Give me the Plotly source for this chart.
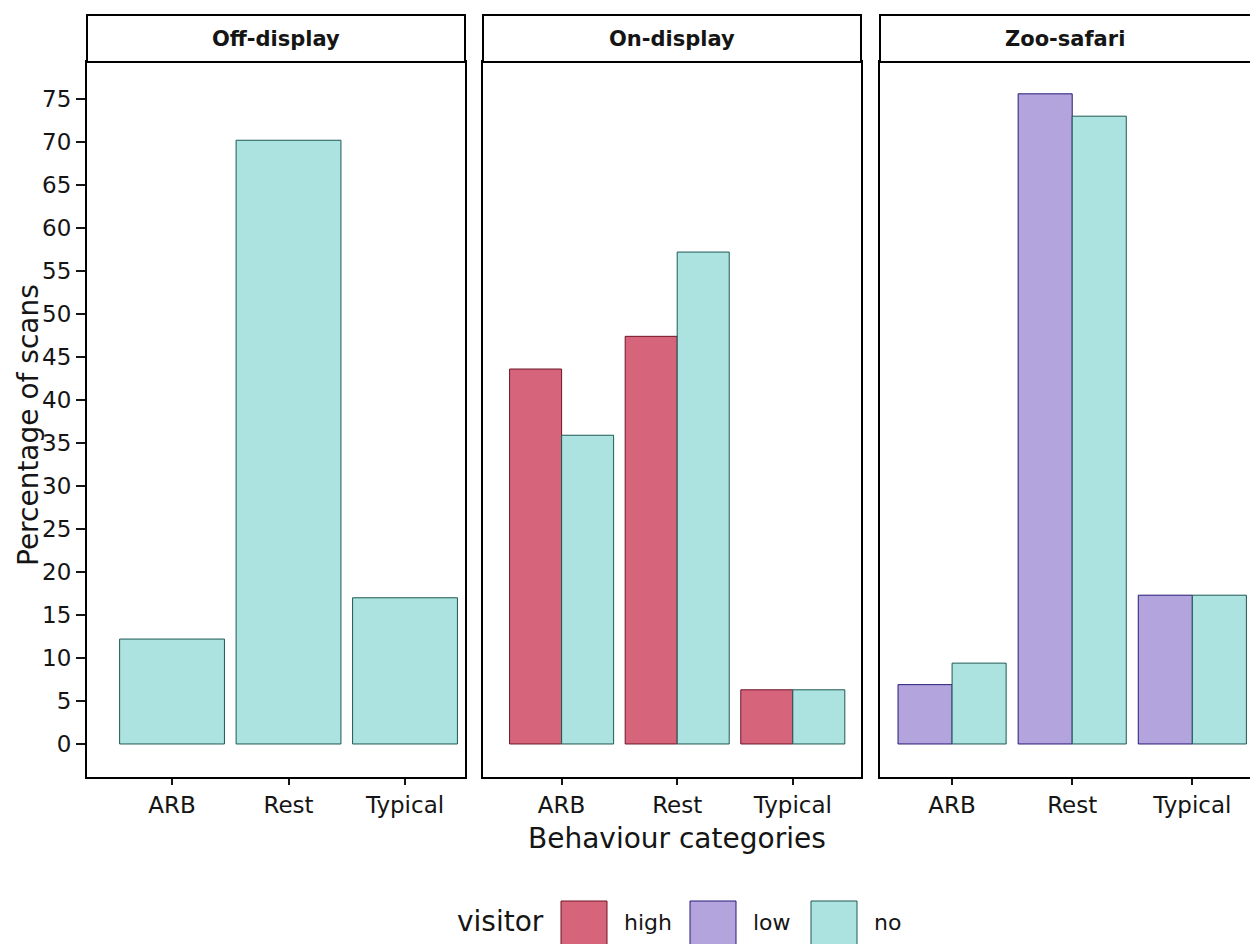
import plotly.graph_objects as go

# ---------------- data ----------------
categories = ["ARB", "Rest", "Typical"]
off_no = [12.2, 70.2, 17.0]
on_high = [43.6, 47.4, 6.3]
on_no = [35.9, 57.2, 6.3]
zoo_low = [6.9, 75.6, 17.3]
zoo_no = [9.4, 73.0, 17.3]
facet_titles = ["Off-display", "On-display", "Zoo-safari"]
visitor_levels = ["high", "low", "no"]
y_ticks = list(range(0, 80, 5))

# ---------------- style ----------------
W, H = 1250, 944
L, R, T, B = 87, 0, 62, 167
PW, PH = W - L - R, H - T - B
FONT = "DejaVu Sans"
INK = "#151515"
fill = {"high": "#d6657c", "low": "#b4a4de", "no": "#ace2df"}
edge = {"high": "#6e1426", "low": "#241a78", "no": "#1d5a54"}


def px_x(x):
    return (x - L) / PW


def px_y(y):
    return (H - B - y) / PH


fig = go.Figure()


def add_bar(vals, level, xa, ya):
    fig.add_trace(go.Bar(
        x=categories, y=vals, name=level, xaxis=xa, yaxis=ya,
        marker=dict(color=fill[level], line=dict(color=edge[level], width=1)),
        showlegend=False,
    ))


add_bar(off_no, "no", "x", "y")
add_bar(on_high, "high", "x2", "y2")
add_bar(on_no, "no", "x2", "y2")
add_bar(zoo_low, "low", "x3", "y3")
add_bar(zoo_no, "no", "x3", "y3")

yr = [-3.84, 79.3]
xcommon = dict(type="category", categoryorder="array", categoryarray=categories,
               showline=True, linecolor="black", linewidth=2, mirror=True,
               ticks="outside", ticklen=6, tickwidth=2, tickcolor=INK,
               showgrid=False, zeroline=False,
               tickfont=dict(family=FONT, size=23, color=INK))
ycommon = dict(range=yr, showline=True, linecolor="black", linewidth=2,
               showgrid=False, zeroline=False)

fig.update_layout(
    width=W, height=H,
    margin=dict(l=L, r=R, t=T, b=B),
    paper_bgcolor="white", plot_bgcolor="white",
    barmode="group", bargap=0.1, bargroupgap=0,
    font=dict(family=FONT, color=INK),
    showlegend=False,
    xaxis=dict(domain=[0, px_x(465)], range=[-0.73, 2.515], anchor="y", **xcommon),
    xaxis2=dict(domain=[px_x(483), px_x(861)], range=[-0.68, 2.59], anchor="y2", **xcommon),
    xaxis3=dict(domain=[px_x(880), 1], range=[-0.6, 2.48], anchor="y3", **xcommon),
    yaxis=dict(anchor="x", mirror=True, tickvals=y_ticks, ticks="outside", ticklen=9,
               tickwidth=2, tickcolor=INK,
               tickfont=dict(family=FONT, size=23, color=INK), **ycommon),
    yaxis2=dict(anchor="x2", matches="y", mirror=True, showticklabels=False, ticks="", **ycommon),
    yaxis3=dict(anchor="x3", matches="y", mirror=False, showticklabels=False, ticks="", **ycommon),
)

shapes = []
annotations = []
# facet strips
for i, title in enumerate(facet_titles):
    xr = "x domain" if i == 0 else f"x{i+1} domain"
    shapes.append(dict(type="rect", xref=xr, yref="paper", x0=0, x1=1 if i < 2 else 1.05,
                       y0=1, y1=px_y(15), line=dict(color="black", width=2),
                       fillcolor="white", layer="above"))
    annotations.append(dict(xref=xr, yref="paper", x=0.5, y=px_y(39), text=f"<b>{title}</b>",
                            showarrow=False, xanchor="center", yanchor="middle",
                            font=dict(family=FONT, size=21, color=INK)))

# axis titles
annotations.append(dict(xref="paper", yref="paper", x=px_x(677), y=px_y(838),
                        text="Behaviour categories", showarrow=False,
                        xanchor="center", yanchor="middle",
                        font=dict(family=FONT, size=28, color=INK)))
annotations.append(dict(xref="paper", yref="paper", x=px_x(28), y=px_y(425),
                        text="Percentage of scans", showarrow=False, textangle=-90,
                        xanchor="center", yanchor="middle",
                        font=dict(family=FONT, size=28, color=INK)))

# legend (drawn as a key under the panels)
annotations.append(dict(xref="paper", yref="paper", x=px_x(455), y=px_y(921),
                        text="visitor", showarrow=False, xanchor="left", yanchor="middle",
                        font=dict(family=FONT, size=28, color=INK)))
key_x = {"high": 561, "low": 690, "no": 811}
for lev in visitor_levels:
    x0 = key_x[lev]
    shapes.append(dict(type="rect", xref="paper", yref="paper",
                       x0=px_x(x0), x1=px_x(x0 + 46), y0=px_y(901), y1=px_y(947),
                       fillcolor=fill[lev], line=dict(color=edge[lev], width=1)))
    annotations.append(dict(xref="paper", yref="paper", x=px_x(x0 + 61), y=px_y(923),
                            text=lev, showarrow=False, xanchor="left", yanchor="middle",
                            font=dict(family=FONT, size=22, color=INK)))

fig.update_layout(shapes=shapes, annotations=annotations)
fig.write_html("out.html")
